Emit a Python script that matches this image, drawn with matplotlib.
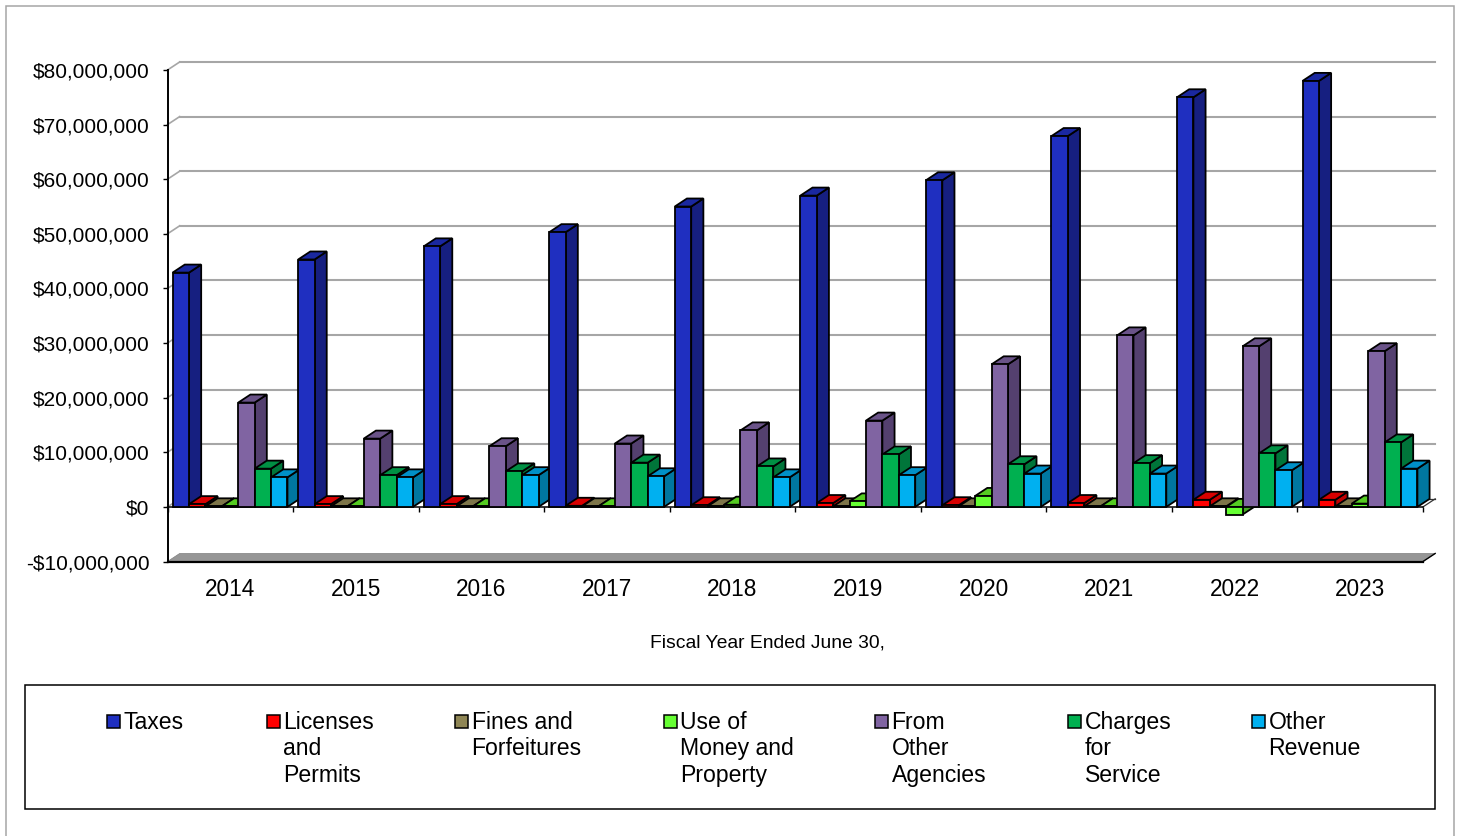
import matplotlib
matplotlib.use('Agg')
import matplotlib.pyplot as plt
from matplotlib.patches import Rectangle
from matplotlib.ticker import FuncFormatter

plt.rcParams['font.family'] = ['Liberation Sans', 'DejaVu Sans']

years = ['2014', '2015', '2016', '2017', '2018', '2019', '2020', '2021', '2022', '2023']

# values in millions of dollars
taxes = [42.9, 45.3, 47.7, 50.3, 55.0, 57.0, 59.8, 67.9, 75.0, 78.0]
licenses = [0.5, 0.5, 0.5, 0.2, 0.3, 0.7, 0.3, 0.7, 1.3, 1.3]
fines = [0.1, 0.1, 0.1, 0.1, 0.1, 0.1, 0.1, 0.1, 0.1, 0.1]
use_of_money = [0.1, 0.1, 0.1, 0.1, 0.4, 1.0, 2.0, 0.1, -1.4, 0.6]
other_agencies = [19.1, 12.5, 11.1, 11.6, 14.0, 15.8, 26.1, 31.4, 29.4, 28.5]
charges = [7.0, 5.8, 6.5, 8.1, 7.4, 9.6, 7.8, 8.0, 9.8, 11.8]
other_revenue = [5.4, 5.4, 5.8, 5.6, 5.4, 5.8, 6.1, 6.1, 6.7, 7.0]

series = [taxes, licenses, fines, use_of_money, other_agencies, charges, other_revenue]
labels = ['Taxes', 'Licenses\nand\nPermits', 'Fines and\nForfeitures', 'Use of\nMoney and\nProperty',
          'From\nOther\nAgencies', 'Charges\nfor\nService', 'Other\nRevenue']

front_colors = ['#1F2FC0', '#FF0000', '#8F8655', '#66FF33', '#8064A2', '#00B050', '#00B0F0']
side_colors = ['#161F80', '#C00000', '#6B6440', '#44AA22', '#54406F', '#00753A', '#0077A0']
top_colors = ['#1A28A0', '#D80000', '#7D7549', '#55CC22', '#6A5388', '#009044', '#0090C8']

W, H = 1458, 836
legend_x = [107, 267, 455, 664, 875, 1068, 1252]


def px(x, y):
    return x / W, 1 - y / H


fig = plt.figure(figsize=(W / 100, H / 100), dpi=100)
ax = fig.add_axes([167.5 / W, 1 - 561.5 / H, 1255.5 / W, 491.5 / H])
ax.patch.set_alpha(0)
ax.set_xlim(0, 10)
ax.set_ylim(-10, 80)

# depth of the fake 3d box, in data units
dx = 0.097
dy = 1.47
bar_w = 0.1307
gap = (1 - bar_w * len(series)) / 2 - 0.002

# back wall
for v in range(-10, 90, 10):
    if v > 0:
        ax.plot([dx, 10 + dx], [v + dy, v + dy], color='#A6A6A6', lw=1.5, zorder=1, clip_on=False)
    if v >= 0:
        ax.plot([0, dx], [v, v + dy], color='#A6A6A6', lw=1.2, zorder=1, clip_on=False)
ax.plot([dx, 10 + dx], [dy, dy], color='#333333', lw=0.9, zorder=1, clip_on=False)
ax.plot([10, 10 + dx], [0, dy], color='#333333', lw=0.9, zorder=1, clip_on=False)

# floor
ax.fill([0, 10, 10 + dx, dx], [-10, -10, -10 + dy, -10 + dy], facecolor='#969696', edgecolor='#808080',
        lw=0.5, zorder=1, clip_on=False)
ax.plot([0, 10], [-10, -10], color='black', lw=1.6, zorder=2, clip_on=False)
ax.plot([10, 10 + dx], [-10, -10 + dy], color='black', lw=1.0, zorder=2, clip_on=False)

# zero line and its ticks
ax.plot([0, 10], [0, 0], color='black', lw=1.1, zorder=2, clip_on=False)
ax.vlines(range(11), -1, 0, color='black', lw=1.0, zorder=2, clip_on=False)

order = 3
for i in range(len(years)):
    for s, values in enumerate(series):
        v = values[i]
        x0 = i + gap + s * bar_w
        x1 = x0 + bar_w
        top = max(v, 0)
        ax.fill([x1, x1 + dx, x1 + dx, x1], [min(v, 0), min(v, 0) + dy, top + dy, top],
                facecolor=side_colors[s], edgecolor='black', lw=1.3, zorder=order, clip_on=False)
        ax.fill([x0, x0 + dx, x1 + dx, x1], [top, top + dy, top + dy, top],
                facecolor=top_colors[s], edgecolor='black', lw=1.3, zorder=order, clip_on=False)
        ax.bar(x0, v, width=bar_w, align='edge', color=front_colors[s], edgecolor='black', lw=1.3,
               zorder=order, clip_on=False)
        order += 1

ax.yaxis.set_major_formatter(FuncFormatter(
    lambda v, pos: '-${:,.0f}'.format(-v * 1e6) if v < 0 else '${:,.0f}'.format(v * 1e6)))
ax.set_yticks(range(-10, 90, 10))
ax.set_xticks([i + 0.5 for i in range(len(years))])
ax.set_xticklabels(years)
ax.tick_params(axis='y', labelsize=15, length=3.6, width=1.0, pad=9.5)
ax.tick_params(axis='x', labelsize=16.3, length=0, pad=12)
ax.set_xlabel('Fiscal Year Ended June 30,', fontsize=13.9, x=(767 - 167) / 1255, labelpad=24)

for name in ['top', 'right', 'bottom']:
    ax.spines[name].set_visible(False)
ax.spines['left'].set_linewidth(1.4)

# outer border runs off the bottom of the image
x, y = px(6, 6)
fig.add_artist(Rectangle((x, -0.05), 1448 / W, y + 0.05, transform=fig.transFigure, fill=False,
                         edgecolor='#A6A6A6', lw=1.1))

# legend box
x, y = px(25, 809)
fig.add_artist(Rectangle((x, y), 1410 / W, 124 / H, transform=fig.transFigure, fill=False,
                         edgecolor='black', lw=1.1))
for s, label in enumerate(labels):
    x, y = px(legend_x[s], 728)
    fig.add_artist(Rectangle((x, y), 13 / W, 13 / H, transform=fig.transFigure, facecolor=front_colors[s],
                             edgecolor='black', lw=1.1))
    x, y = px(legend_x[s] + 16.5, 711)
    fig.text(x, y, label, fontsize=16.6, ha='left', va='top', linespacing=1.19, color='black')

fig.savefig('out.png', dpi=100)
